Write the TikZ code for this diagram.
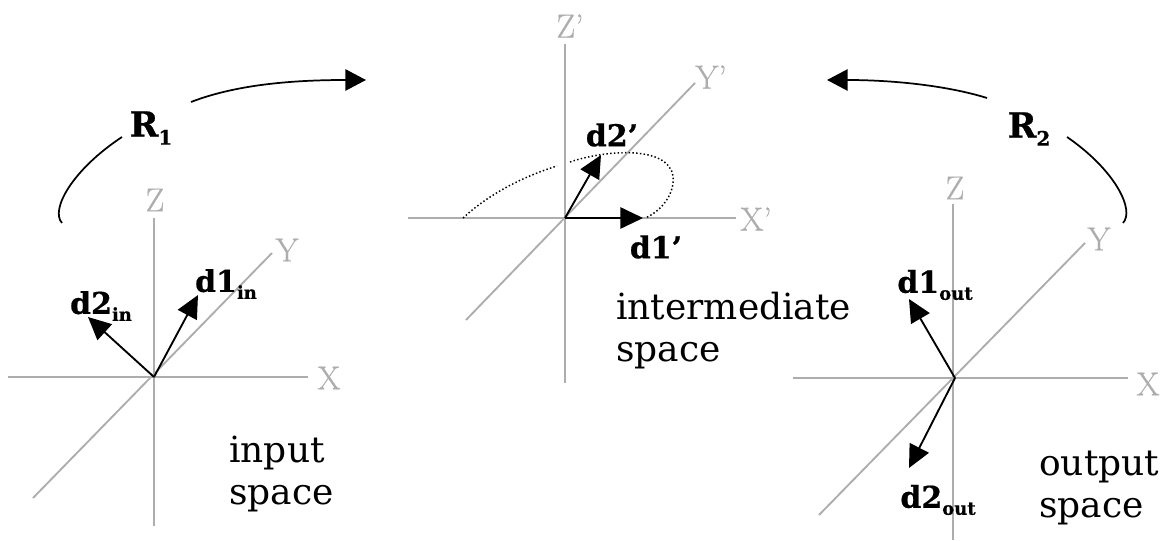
\documentclass[tikz,border=0pt]{standalone}
\usepackage{fontspec}
\setmainfont{DejaVu Serif}
\newfontfamily\heavyfont[FakeBold=0.6]{DejaVu Serif Bold}
\newfontfamily\axisfont[FakeBold=0.5]{Latin Modern Roman}
\usetikzlibrary{arrows.meta}
\definecolor{axisgrey}{gray}{0.68}
\tikzset{
  axisline/.style={draw=axisgrey,line width=1.4pt},
  axislabel/.style={text=axisgrey,font=\axisfont\fontsize{25}{25}\selectfont,inner sep=0pt},
  vectorline/.style={draw=black,line width=1.4pt,-{Triangle[length=17pt,width=16pt]}},
  swoop/.style={draw=black,line width=1.3pt},
  swooptip/.style={swoop,-{Triangle[length=15.5pt,width=16pt]}},
  boldlabel/.style={font=\heavyfont\fontsize{22.5}{22.5}\selectfont,inner sep=0pt},
  biglabel/.style={font=\heavyfont\fontsize{26}{26}\selectfont,inner sep=0pt},
  caption/.style={font=\fontsize{27}{31.5}\selectfont,align=left,inner sep=0pt,anchor=north west},
  pathdots/.style={draw=black,line width=1.1pt,dash pattern=on 1.1pt off 1.7pt}
}
\newcommand{\subs}[1]{\raisebox{-0.45ex}{\fontsize{13.5}{13.5}\selectfont #1}}
\newcommand{\bigsubs}[1]{\raisebox{-0.45ex}{\fontsize{15}{15}\selectfont #1}}
\begin{document}
\begin{tikzpicture}[x=0.75pt,y=-0.75pt]
\useasboundingbox (0,0) rectangle (1166,541);
% left axes
\coordinate (lo) at (154,377);
\coordinate (lxa) at (8,377); \coordinate (lxb) at (308,377);
\coordinate (lza) at (154,218); \coordinate (lzb) at (154,526);
\coordinate (lya) at (33,498); \coordinate (lyb) at (272,253);
\draw[axisline] (lxa) -- (lxb);
\draw[axisline] (lza) -- (lzb);
\draw[axisline] (lya) -- (lyb);
\node[axislabel] (lX) at (329,378) {X};
\node[axislabel] (lY) at (287,250) {Y};
\node[axislabel] (lZ) at (155,200) {Z};
% middle axes
\coordinate (mo) at (565,218);
\coordinate (mxa) at (408,218); \coordinate (mxb) at (736,218);
\coordinate (mza) at (565,44); \coordinate (mzb) at (565,383);
\coordinate (mya) at (466,320); \coordinate (myb) at (695,83);
\draw[axisline] (mxa) -- (mxb);
\draw[axisline] (mza) -- (mzb);
\draw[axisline] (mya) -- (myb);
\node[axislabel] (mX) at (756,219) {X’};
\node[axislabel] (mY) at (711,77) {Y’};
\node[axislabel] (mZ) at (570,26) {Z’};
% right axes
\coordinate (ro) at (955,378);
\coordinate (rxa) at (793,378); \coordinate (rxb) at (1128,378);
\coordinate (rza) at (953,204); \coordinate (rzb) at (953,540);
\coordinate (rya) at (819,515); \coordinate (ryb) at (1085,243);
\draw[axisline] (rxa) -- (rxb);
\draw[axisline] (rza) -- (rzb);
\draw[axisline] (rya) -- (ryb);
\node[axislabel] (rX) at (1148,384) {X};
\node[axislabel] (rY) at (1099,239) {Y};
\node[axislabel] (rZ) at (955,188) {Z};
% vectors
\coordinate (ld1) at (198,295); \coordinate (ld2) at (88,317);
\coordinate (md1) at (643,218); \coordinate (md2) at (601,155);
\coordinate (rd1) at (909,299); \coordinate (rd2) at (909,468);
\draw[vectorline] (lo) -- (ld1);
\draw[vectorline] (lo) -- (ld2);
\draw[vectorline] (mo) -- (md1);
\draw[vectorline] (mo) -- (md2);
\draw[vectorline] (ro) -- (rd1);
\draw[vectorline] (ro) -- (rd2);
% dotted rotation path
\coordinate (da) at (463,218); \coordinate (db) at (557,166);
\coordinate (dc) at (570,162); \coordinate (dd) at (645,218);
\draw[pathdots] (da) .. controls (490,193) and (525,176) .. (db);
\draw[pathdots] (dc) .. controls (605,150) and (668,145) .. (673,176) .. controls (675,195) and (660,212) .. (dd);
% swoops
\coordinate (s1a) at (62,223); \coordinate (s1b) at (122,137);
\coordinate (s2a) at (191,102); \coordinate (s2b) at (366,80);
\coordinate (s3a) at (987,98); \coordinate (s3b) at (827,80);
\coordinate (s4a) at (1123,223); \coordinate (s4b) at (1067,137);
\draw[swoop] (s1a) .. controls (50,210) and (72,170) .. (s1b);
\draw[swooptip] (s2a) .. controls (235,85) and (290,80) .. (s2b);
\draw[swooptip] (s3a) .. controls (945,85) and (890,80) .. (s3b);
\draw[swoop] (s4a) .. controls (1135,210) and (1115,170) .. (s4b);
% bold labels
\node[biglabel] (r1) at (151,128) {R\bigsubs{1}};
\node[biglabel] (r2) at (1029,129) {R\bigsubs{2}};
\node[boldlabel] (d1in) at (226,284) {d1\subs{in}};
\node[boldlabel] (d2in) at (101,306) {d2\subs{in}};
\node[boldlabel] (d1p) at (656,247) {d1’};
\node[boldlabel] (d2p) at (612,135) {d2’};
\node[boldlabel] (d1out) at (935,285) {d1\subs{out}};
\node[boldlabel] (d2out) at (938,500) {d2\subs{out}};
% captions
\node[caption] (cin) at (229,436) {input\\space};
\node[caption] (cmid) at (616,292) {intermediate\\space};
\node[caption] (cout) at (1039,451) {output\\space};
\end{tikzpicture}
\end{document}
